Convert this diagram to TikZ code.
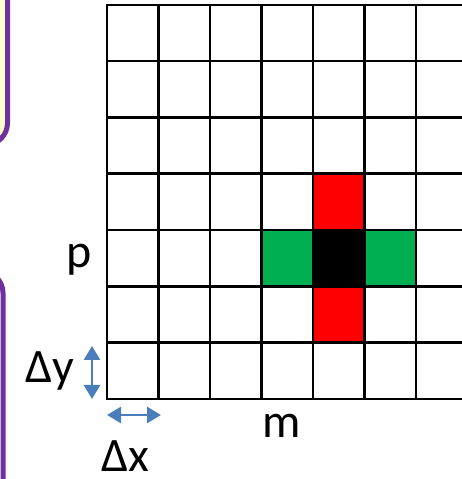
\documentclass[tikz,border=0pt]{standalone}
\usepackage{fontspec}
\setmainfont{Carlito}
\usetikzlibrary{arrows.meta}
\definecolor{boxpurple}{RGB}{112,48,160}
\definecolor{boxyellow}{RGB}{255,255,204}
\definecolor{dimblue}{RGB}{74,126,187}
\definecolor{cellgreen}{RGB}{0,176,80}
\tikzset{
    cellline/.style={line width=2.6pt, line cap=rect},
    sidebox/.style={line width=5pt, draw=boxpurple, rounded corners=22pt},
    dimarrow/.style={dimblue, line width=2.6pt, {Triangle[length=14pt,width=16pt]}-{Triangle[length=14pt,width=16pt]}},
    biglabel/.style={font=\fontsize{48}{54}\selectfont, inner sep=0pt, anchor=base}
}
\begin{document}
\begin{tikzpicture}[x=1pt, y=1pt]
    \useasboundingbox (0,0) rectangle (462,479);
    \clip (0,0) rectangle (462,479);

    \def\cw{51.5}
    \def\ch{56.3}

    % side panels
    \draw[sidebox, fill=boxyellow] (-80,334) rectangle (7.5,520);
    \draw[sidebox, fill=white] (-80,-40) rectangle (3,208);

    % stencil cells
    \begin{scope}[shift={(107,80)}]
    \fill[black] (4*\cw,2*\ch) rectangle (5*\cw,3*\ch);
    \fill[red] (4*\cw,1*\ch) rectangle (5*\cw,2*\ch);
    \fill[red] (4*\cw,3*\ch) rectangle (5*\cw,4*\ch);
    \fill[cellgreen] (3*\cw,2*\ch) rectangle (4*\cw,3*\ch);
    \fill[cellgreen] (5*\cw,2*\ch) rectangle (6*\cw,3*\ch);

    \foreach \i in {0,...,7}
        \draw[cellline] (\i*\cw,0) -- (\i*\cw,7*\ch);
    \foreach \j in {0,...,7}
        \draw[cellline] (0,\j*\ch) -- (8*\cw,\j*\ch);
    \end{scope}

    \node[biglabel] (p) at (79,211) {p};
    \node[biglabel] (m) at (281.5,41) {m};
    \node[biglabel] (dy) at (50,96) {Δy};
    \node[biglabel] (dx) at (125,7) {Δx};

    \coordinate (dytop) at (92,133);
    \coordinate (dybot) at (92,80);
    \coordinate (dxleft) at (107,64);
    \coordinate (dxright) at (161,64);
    \draw[dimarrow] (dytop) -- (dybot);
    \draw[dimarrow] (dxleft) -- (dxright);
\end{tikzpicture}
\end{document}
